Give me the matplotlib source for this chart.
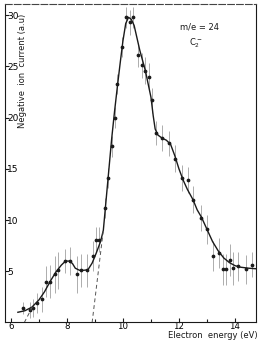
import numpy as np
import matplotlib
matplotlib.use("Agg")
import matplotlib.pyplot as plt

# measured points (electron energy eV, ion current a.u., error half-length)
pts_e = [6.42, 6.68, 6.8, 6.94, 7.1, 7.27, 7.39, 7.57, 7.69, 7.93, 8.1, 8.35, 8.52, 8.73,
         8.94, 9.04, 9.14, 9.36, 9.46, 9.6, 9.71, 9.8, 9.95, 10.1, 10.25, 10.35,
         10.55, 10.67, 10.79, 10.94, 11.03, 11.18, 11.38, 11.65, 11.86, 12.1, 12.33,
         12.51, 12.77, 12.99, 13.22, 13.44, 13.58, 13.68, 13.82, 13.92, 14.12, 14.39, 14.6]
pts_i = [1.45, 1.25, 1.4, 1.9, 2.25, 4.0, 4.0, 4.7, 5.1, 6.0, 6.0, 4.7, 5.1, 5.1,
         6.5, 8.1, 8.1, 11.2, 14.1, 17.2, 20.0, 23.3, 26.9, 29.8, 29.3, 29.8,
         26.1, 25.1, 24.6, 24.0, 21.7, 18.5, 18.0, 17.5, 16.0, 14.1, 13.9,
         12.0, 10.2, 9.1, 6.5, 6.8, 5.2, 5.2, 6.1, 5.3, 5.5, 5.2, 5.65]
pts_err = [0.6, 0.8, 0.9, 1.0, 1.2, 1.5, 1.6, 1.8, 1.8, 1.2, 1.4, 1.8, 1.6, 1.6,
           1.5, 1.2, 1.2, 1.0, 1.0, 1.0, 1.0, 1.0, 1.0, 1.0, 1.2, 1.0,
           1.2, 1.2, 1.3, 1.3, 1.2, 1.2, 1.3, 1.2, 1.3, 1.3, 1.3,
           1.3, 1.3, 1.4, 1.5, 1.5, 1.5, 1.5, 1.6, 1.6, 1.4, 1.4, 1.2]

# hand-drawn smooth curve
curve_e = [6.25, 6.5, 6.75, 7.0, 7.2, 7.4, 7.6, 7.8, 7.95, 8.1, 8.2, 8.3, 8.45, 8.6, 8.75,
           8.9, 9.05, 9.2, 9.3, 9.4, 9.5, 9.6, 9.7, 9.8, 9.9, 10.0, 10.1, 10.2, 10.3, 10.4,
           10.5, 10.6, 10.7, 10.8, 10.9, 11.0, 11.08, 11.15, 11.25, 11.4, 11.55, 11.7,
           11.85, 12.0, 12.15, 12.3, 12.5, 12.65, 12.8, 13.0, 13.2, 13.4, 13.6, 13.8,
           14.0, 14.2, 14.5, 14.75]
curve_i = [1.0, 1.15, 1.5, 2.2, 3.0, 4.0, 4.9, 5.6, 6.0, 6.0, 5.75, 5.3, 5.1, 5.1, 5.15,
           5.8, 6.8, 7.9, 9.0, 12.0, 15.0, 18.0, 20.6, 23.0, 25.3, 27.5, 29.2, 29.8, 29.6, 29.0,
           27.8, 26.6, 25.6, 24.6, 23.3, 22.0, 20.2, 18.9, 18.3, 18.0, 17.8, 17.4,
           16.3, 15.0, 13.9, 13.0, 12.0, 11.0, 10.3, 9.1, 7.9, 7.0, 6.3, 5.85,
           5.55, 5.4, 5.3, 5.25]

# extrapolated onsets (dashed)
onset1_e = [6.48, 6.78]
onset1_i = [0.0, 1.6]
onset2_e = [8.9, 9.3]
onset2_i = [0.0, 9.0]

fig = plt.figure(figsize=(2.58, 3.42), dpi=100)
ax = fig.add_axes([5/258, 20/342, 251/258, 318/342])

ink = "#1a1a1a"
ax.errorbar(pts_e, pts_i, yerr=pts_err, fmt="none", ecolor="#a0a0a0", elinewidth=0.6, capsize=0)
ax.plot(pts_e, pts_i, "o", color=ink, ms=1.7)
ax.plot(curve_e, curve_i, "-", color=ink, lw=1.0)
ax.plot(onset1_e, onset1_i, "--", color="#555555", lw=0.7, dashes=(4, 3))
ax.plot(onset2_e, onset2_i, "--", color="#555555", lw=0.7, dashes=(4, 3))

ax.set_xlim(5.79, 14.75)
ax.set_ylim(0.05, 31.1)

ax.set_xticks([6, 8, 10, 12, 14])
ax.set_xticks([7, 9, 11, 13], minor=True)
ax.set_yticks([5, 10, 15, 20, 25, 30])
ax.tick_params(axis="both", which="both", direction="in", color=ink, width=0.8)
ax.tick_params(axis="x", which="major", length=3, labelsize=6.2, pad=0)
ax.tick_params(axis="x", which="minor", length=2.5)
ax.tick_params(axis="y", length=3, labelsize=6.5, pad=-1.5)
for lab in ax.get_yticklabels():
    lab.set_horizontalalignment("left")

for side in ["left", "bottom", "right"]:
    ax.spines[side].set_linewidth(0.8)
    ax.spines[side].set_color(ink)
ax.spines["top"].set_linewidth(0.8)
ax.spines["top"].set_color("#444444")
ax.spines["top"].set_linestyle((0, (6, 2)))

ax.text(0.069, 0.79, "Negative  ion  current (a.u)", transform=ax.transAxes,
        rotation=90, ha="center", va="center", fontsize=6, color=ink)
ax.text(1.008, -0.044, "Electron  energy (eV)", transform=ax.transAxes,
        ha="right", va="center", fontsize=6, color=ink)
ax.text(0.773, 0.928, "m/e = 24", transform=ax.transAxes, ha="center", va="center",
        fontsize=6, color=ink)
ax.text(0.76, 0.877, "C$_2^-$", transform=ax.transAxes, ha="center", va="center",
        fontsize=6, color=ink)

fig.savefig("out.png", dpi=100)
